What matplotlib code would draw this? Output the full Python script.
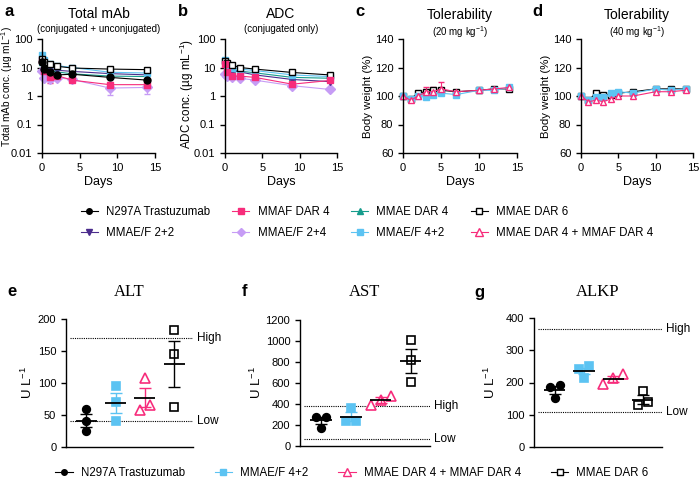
import numpy as np
import matplotlib
matplotlib.use('Agg')
import matplotlib.pyplot as plt
from matplotlib.lines import Line2D
from matplotlib.ticker import FuncFormatter, NullLocator

plt.rcParams['font.family'] = ['Liberation Sans', 'DejaVu Sans']
plt.rcParams['mathtext.default'] = 'regular'
plt.rcParams['axes.linewidth'] = 1.0
plt.rcParams['xtick.major.width'] = 1.0
plt.rcParams['ytick.major.width'] = 1.0
plt.rcParams['xtick.major.size'] = 3.5
plt.rcParams['ytick.major.size'] = 3.5
plt.rcParams['xtick.labelsize'] = 8
plt.rcParams['ytick.labelsize'] = 8

# ---- data ----
pk_days = [0, 0.3, 1, 2, 4, 9, 14]

# total mAb (ug/mL)
tot_n297a = [15.6, 9.1, 6.8, 5.5, 5.8, 4.5, 3.6]
tot_mmaf4 = [19, 7.3, 4.6, 5.2, 3.6, 2.5, 2.5]
tot_mmaf4_err = [0, 1.0, 1.8, 0.6, 0.5, 0.5, 0.5]
tot_mmae4 = [15, 10, 8, 7, 6.0, 5.0, 4.8]
tot_mmae6 = [20, 15, 13, 11, 9.6, 8.8, 8.4]
tot_ef22 = [17, 9.6, 8.8, 8.0, 7.3, 6.1, 5.5]
tot_ef24 = [7.3, 4.4, 3.9, 4.4, 3.8, 1.9, 2.0]
tot_ef24_err = [0, 0.5, 0.5, 0.5, 0.5, 0.8, 0.8]
tot_ef42 = [28, 19, 13.6, 11.6, 10, 6.8, 6.4]

# ADC (ug/mL)
adc_mmaf4 = [13, 7, 5, 5, 4.5, 2.6, 3.5]
adc_mmae4 = [14, 10, 8, 7.5, 6.5, 4.5, 4.2]
adc_mmae6 = [17.6, 14, 12, 10, 8.8, 6.7, 5.5]
adc_ef22 = [13, 9, 7.5, 7, 5.5, 3.8, 3.2]
adc_ef24 = [6, 5, 4.5, 4.2, 3.6, 2.3, 1.7]
adc_ef42 = [18.6, 12, 9.5, 8.8, 7.8, 5.5, 4.8]

# body weight (%)
bw_days = [0, 1, 2, 3, 4, 5, 7, 10, 12, 14]
bw20_mmae6 = [100, 98, 102, 103, 104, 104, 103, 104, 105, 105]
bw20_ef42 = [100, 98, 100, 99, 101, 102, 101, 104, 104, 106]
bw20_combo = [100, 97, 100, 103, 103, 105, 103, 104, 105, 106]
bw20_combo_err = [0, 0, 0, 3, 3, 4.5, 0, 0, 0, 0]
bw40_mmae6 = [100, 97, 102, 101, 101, 102, 103, 105, 105, 105]
bw40_ef42 = [100, 97, 99, 99, 102, 103, 102, 105, 104, 105]
bw40_combo = [100, 96, 97, 96, 98, 100, 100, 103, 103, 104]

# clinical chemistry (U/L), 3 animals per group
alt_n297a = [59, 40, 25]
alt_ef42 = [96, 70, 41]
alt_combo = [108, 58, 66]
alt_mmae6 = [183, 145, 62]
ast_n297a = [278, 175, 280]
ast_ef42 = [365, 235, 235]
ast_combo = [480, 390, 440]
ast_mmae6 = [1010, 815, 605]
alkp_n297a = [192, 185, 153]
alkp_ef42 = [251, 241, 215]
alkp_combo = [225, 194, 215]
alkp_mmae6 = [173, 130, 138]
alt_ref = [40, 170]
ast_ref = [64, 380]
alkp_ref = [107, 367]

# ---- styles ----
BLACK = '#000000'
PINK = '#F72C7B'
TEAL = '#169C8C'
DPURP = '#4A2B8C'
LPURP = '#C69CF5'
LBLUE = '#5CC3F2'

sty = {
    'N297A Trastuzumab': dict(color=BLACK, marker='o', mfc=BLACK),
    'MMAF DAR 4': dict(color=PINK, marker='s', mfc=PINK),
    'MMAE DAR 4': dict(color=TEAL, marker='^', mfc=TEAL),
    'MMAE DAR 6': dict(color=BLACK, marker='s', mfc='white'),
    'MMAE/F 2+2': dict(color=DPURP, marker='v', mfc=DPURP),
    'MMAE/F 2+4': dict(color=LPURP, marker='D', mfc=LPURP),
    'MMAE/F 4+2': dict(color=LBLUE, marker='s', mfc=LBLUE),
    'MMAE DAR 4 + MMAF DAR 4': dict(color=PINK, marker='^', mfc='white'),
}

W, H = 700, 479
fig = plt.figure(figsize=(W / 100, H / 100), dpi=100)


def fx(x):
    return x / W


def fy(y):
    return 1 - y / H


def px_axes(x0, y0, x1, y1):
    return fig.add_axes([fx(x0), fy(y1), (x1 - x0) / W, (y1 - y0) / H])


def clean(ax):
    ax.spines['top'].set_visible(False)
    ax.spines['right'].set_visible(False)


def ylabel_at(ax, text, x_px, size, yfrac=0.5):
    # place the y label with its centre at a given pixel column
    bb = ax.get_position()
    xa = (fx(x_px) - bb.x0) / bb.width
    ax.set_ylabel(text, fontsize=size)
    ax.yaxis.set_label_coords(xa, yfrac)
    ax.yaxis.label.set_va('center')


def series(ax, x, y, name, err=None, ms=5):
    s = sty[name]
    ax.errorbar(x, y, yerr=err, color=s['color'], marker=s['marker'],
                mfc=s['mfc'], mec=s['color'], ms=ms, lw=0.8, mew=1.0,
                capsize=2.5, elinewidth=0.8, clip_on=False)


def header(ax, title, sub, letter, lx, ty, sy):
    bb = ax.get_position()
    cx = (bb.x0 + bb.x1) / 2
    fig.text(cx, fy(ty), title, ha='center', va='center', fontsize=10)
    fig.text(cx, fy(sy), sub, ha='center', va='center', fontsize=7)
    fig.text(fx(lx), fy(12), letter, ha='center', va='center', fontsize=12,
             fontweight='bold')


def log_axis(ax):
    ax.set_yscale('log')
    ax.set_ylim(0.01, 100)
    ax.set_yticks([0.01, 0.1, 1, 10, 100])
    ax.yaxis.set_major_formatter(FuncFormatter(lambda v, p: '%g' % v))
    ax.yaxis.set_minor_locator(NullLocator())
    ax.set_xlim(0, 15)
    ax.set_xticks([0, 5, 10, 15])
    ax.set_xlabel('Days', fontsize=9, labelpad=2)
    clean(ax)


# ---- a: total mAb ----
ax = px_axes(42, 39, 155, 153)
series(ax, pk_days, tot_mmae4, 'MMAE DAR 4')
series(ax, pk_days, tot_ef24, 'MMAE/F 2+4', tot_ef24_err)
series(ax, pk_days, tot_mmaf4, 'MMAF DAR 4', tot_mmaf4_err)
series(ax, pk_days, tot_ef22, 'MMAE/F 2+2')
series(ax, pk_days, tot_ef42, 'MMAE/F 4+2')
series(ax, pk_days, tot_mmae6, 'MMAE DAR 6')
series(ax, pk_days, tot_n297a, 'N297A Trastuzumab')
log_axis(ax)
ylabel_at(ax, 'Total mAb conc. (µg mL$^{-1}$)', 7, 7.3, 0.58)
header(ax, 'Total mAb', '(conjugated + unconjugated)', 'a', 9, 14, 29)

# ---- b: ADC ----
ax = px_axes(225, 39, 337, 153)
series(ax, pk_days, adc_ef24, 'MMAE/F 2+4')
series(ax, pk_days, adc_mmae4, 'MMAE DAR 4')
series(ax, pk_days, adc_ef22, 'MMAE/F 2+2')
series(ax, pk_days, adc_ef42, 'MMAE/F 4+2')
series(ax, pk_days, adc_mmae6, 'MMAE DAR 6')
series(ax, pk_days, adc_mmaf4, 'MMAF DAR 4')
log_axis(ax)
ylabel_at(ax, 'ADC conc. (µg mL$^{-1}$)', 187, 8.4, 0.52)
header(ax, 'ADC', '(conjugated only)', 'b', 183, 14, 29)


# ---- c, d: body weight ----
def bw_axis(ax, lab_x):
    ax.set_ylim(60, 140)
    ax.set_yticks([60, 80, 100, 120, 140])
    ax.set_xlim(0, 15)
    ax.set_xticks([0, 5, 10, 15])
    ax.set_xlabel('Days', fontsize=9, labelpad=2)
    ylabel_at(ax, 'Body weight (%)', lab_x, 8.2, 0.5)
    clean(ax)


ax = px_axes(403, 39, 517, 153)
series(ax, bw_days, bw20_mmae6, 'MMAE DAR 6', ms=4.5)
series(ax, bw_days, bw20_ef42, 'MMAE/F 4+2', ms=4.5)
series(ax, bw_days, bw20_combo, 'MMAE DAR 4 + MMAF DAR 4', bw20_combo_err, ms=5)
bw_axis(ax, 368)
header(ax, 'Tolerability', '(20 mg kg$^{-1}$)', 'c', 360, 15, 32)

ax = px_axes(581, 39, 693, 153)
series(ax, bw_days, bw40_mmae6, 'MMAE DAR 6', ms=4.5)
series(ax, bw_days, bw40_ef42, 'MMAE/F 4+2', ms=4.5)
series(ax, bw_days, bw40_combo, 'MMAE DAR 4 + MMAF DAR 4', ms=5)
bw_axis(ax, 546)
header(ax, 'Tolerability', '(40 mg kg$^{-1}$)', 'd', 537, 15, 32)

# ---- legend 1 ----
leg_order = ['N297A Trastuzumab', 'MMAE/F 2+2', 'MMAF DAR 4', 'MMAE/F 2+4',
             'MMAE DAR 4', 'MMAE/F 4+2', 'MMAE DAR 6', 'MMAE DAR 4 + MMAF DAR 4']


def proxy(name, ms=4):
    s = sty[name]
    big = name == 'MMAE DAR 4 + MMAF DAR 4'
    return Line2D([], [], color=s['color'], marker=s['marker'], mfc=s['mfc'],
                  mec=s['color'], ms=6 if big else ms, lw=0.8, mew=1.0)


fig.legend([proxy(n) for n in leg_order], leg_order, loc='center',
           bbox_to_anchor=(fx(367), fy(222.5)), ncol=4, frameon=False,
           fontsize=8.3, handlelength=1.5, handletextpad=0.7,
           columnspacing=1.9, labelspacing=0.7, borderpad=0)

# ---- e, f, g: clinical chemistry ----
chem_groups = ['N297A Trastuzumab', 'MMAE/F 4+2', 'MMAE DAR 4 + MMAF DAR 4', 'MMAE DAR 6']
chem_ms = {'N297A Trastuzumab': 5.5, 'MMAE/F 4+2': 5.5,
           'MMAE DAR 4 + MMAF DAR 4': 6.5, 'MMAE DAR 6': 6}


def swarm(vals, py, size_px=8, step_px=10):
    vals = np.asarray(vals, dtype=float)
    order = np.argsort(vals)
    bins = [[order[0]]]
    for a, b in zip(order[:-1], order[1:]):
        if (vals[b] - vals[a]) * py < size_px:
            bins[-1].append(b)
        else:
            bins.append([b])
    offs = np.zeros(len(vals))
    for b in bins:
        for i, idx in enumerate(b):
            offs[idx] = (i - (len(b) - 1) / 2) * step_px
    return offs


def chem_panel(box, data, ymax, ystep, ref, title, letter, lx, lab_x):
    ax = px_axes(*box)
    xl = (-0.7, 3.65)
    ax.set_xlim(*xl)
    ax.set_ylim(0, ymax)
    ax.set_yticks(np.arange(0, ymax + 1, ystep))
    ax.set_xticks([])
    clean(ax)
    bb = ax.get_window_extent()
    py = bb.height / ymax
    px = bb.width / (xl[1] - xl[0])
    for i, (name, vals) in enumerate(zip(chem_groups, data)):
        s = sty[name]
        xs = i + swarm(vals, py) / px
        ax.plot(xs, vals, ls='none', marker=s['marker'], mfc=s['mfc'],
                mec=s['color'], ms=chem_ms[name], mew=1.2, zorder=2)
        m = np.mean(vals)
        sem = np.std(vals, ddof=1) / np.sqrt(len(vals))
        ax.errorbar(i, m, yerr=sem, color=s['color'], capsize=4, lw=1.0,
                    capthick=1.0, zorder=3)
        ax.hlines(m, i - 0.36, i + 0.36, color='black', lw=1.3, zorder=4)
    for v, lab in zip(ref, ['Low', 'High']):
        ax.axhline(v, xmin=0.03, xmax=1, color='black', ls=(0, (1, 1)),
                   lw=0.8, zorder=1)
        ax.text(1.03, v, lab, transform=ax.get_yaxis_transform(),
                ha='left', va='center', fontsize=8.5)
    ylabel_at(ax, 'U L$^{-1}$', lab_x, 9.5, 0.5)
    bbf = ax.get_position()
    fig.text((bbf.x0 + bbf.x1) / 2, fy(292), title, ha='center', va='center',
             fontsize=12, family='Liberation Serif')
    fig.text(fx(lx), fy(292), letter, ha='center', va='center', fontsize=12,
             fontweight='bold')
    return ax


chem_panel((66, 319, 193, 447), [alt_n297a, alt_ef42, alt_combo, alt_mmae6],
           200, 50, alt_ref, 'ALT', 'e', 12, 27)
chem_panel((300, 320, 430, 446), [ast_n297a, ast_ef42, ast_combo, ast_mmae6],
           1200, 200, ast_ref, 'AST', 'f', 244, 256)
chem_panel((534, 318, 662, 447), [alkp_n297a, alkp_ef42, alkp_combo, alkp_mmae6],
           400, 100, alkp_ref, 'ALKP', 'g', 479, 490)

# ---- legend 2 ----
fig.legend([proxy(n) for n in chem_groups], chem_groups, loc='center',
           bbox_to_anchor=(fx(352), fy(473)), ncol=4, frameon=False,
           fontsize=8.3, handlelength=1.5, handletextpad=0.7,
           columnspacing=2.6, borderpad=0)

plt.savefig('out.png', dpi=100)
